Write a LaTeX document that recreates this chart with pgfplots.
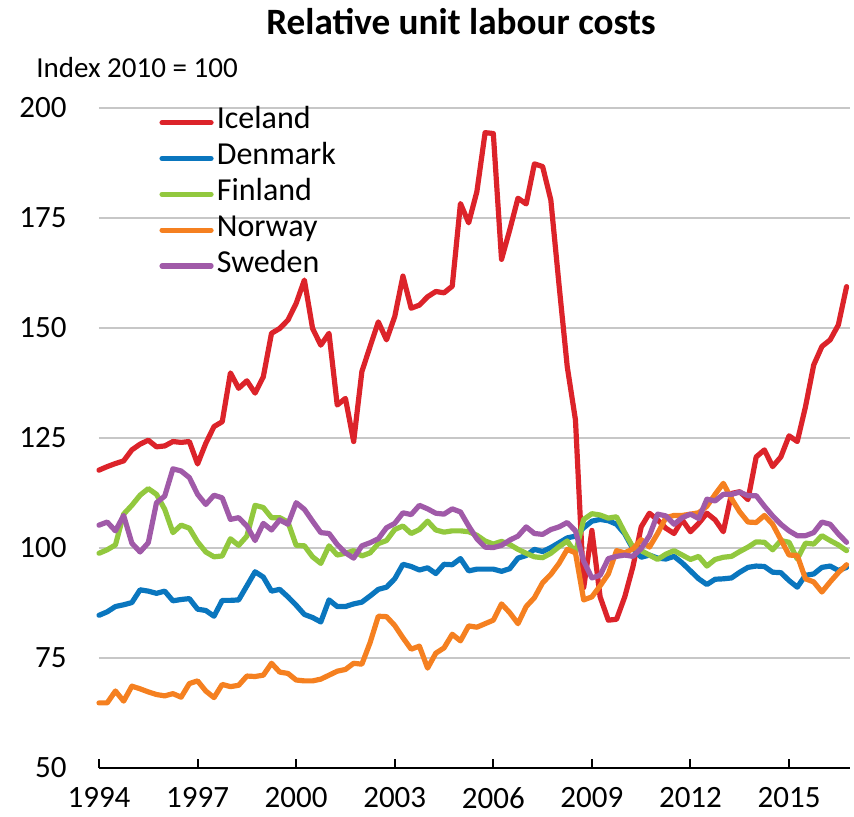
\documentclass[border=0pt]{standalone}
\usepackage{fontspec}
\setmainfont{Carlito}
\usepackage{pgfplots}
\usepackage{pgfplotstable}
\pgfplotsset{compat=1.18}
\definecolor{ice}{RGB}{220,35,42}
\definecolor{den}{RGB}{10,118,190}
\definecolor{fin}{RGB}{146,200,62}
\definecolor{nor}{RGB}{245,128,32}
\definecolor{swe}{RGB}{160,90,168}
\pgfplotstableread{
x ice den fin nor swe
1994.00 117.7 84.7 98.8 64.8 105.2
1994.25 118.5 85.5 99.6 64.8 105.9
1994.50 119.2 86.7 100.7 67.5 103.9
1994.75 119.8 87.1 107.7 65.2 107.4
1995.00 122.3 87.6 109.7 68.6 101.1
1995.25 123.6 90.5 112.0 68.0 99.1
1995.50 124.5 90.2 113.5 67.3 101.2
1995.75 123.0 89.7 112.2 66.7 110.3
1996.00 123.2 90.2 108.8 66.4 111.8
1996.25 124.2 88.0 103.5 66.9 118.0
1996.50 124.0 88.3 105.2 66.1 117.5
1996.75 124.2 88.5 104.5 69.2 116.0
1997.00 119.1 86.1 101.4 69.8 112.2
1997.25 123.8 85.8 99.1 67.5 109.9
1997.50 127.6 84.5 98.0 66.0 112.0
1997.75 128.7 88.1 98.2 69.0 111.4
1998.00 139.8 88.1 102.1 68.5 106.5
1998.25 136.3 88.2 100.6 68.8 106.9
1998.50 138.0 91.4 102.7 70.9 105.0
1998.75 135.2 94.6 109.7 70.8 101.7
1999.00 138.9 93.4 109.2 71.1 105.6
1999.25 148.8 90.2 106.9 73.8 104.1
1999.50 149.9 90.6 106.9 71.8 106.4
1999.75 151.8 88.9 105.9 71.5 105.4
2000.00 155.6 87.0 100.6 70.0 110.3
2000.25 160.9 84.9 100.5 69.8 108.8
2000.50 149.9 84.2 98.0 69.8 106.1
2000.75 146.1 83.2 96.5 70.2 103.5
2001.00 148.8 88.2 100.5 71.1 103.3
2001.25 132.5 86.7 98.4 72.0 100.8
2001.50 134.0 86.7 98.8 72.4 98.9
2001.75 124.2 87.3 99.4 73.8 97.7
2002.00 140.1 87.7 98.2 73.6 100.5
2002.25 145.8 89.1 98.9 78.5 101.2
2002.50 151.4 90.6 101.0 84.5 102.1
2002.75 147.3 91.1 101.7 84.4 104.6
2003.00 152.6 93.0 104.2 82.4 105.6
2003.25 161.8 96.3 105.0 79.6 108.0
2003.50 154.5 95.8 103.3 77.0 107.6
2003.75 155.2 95.0 104.2 77.7 109.7
2004.00 157.1 95.5 106.1 72.7 108.9
2004.25 158.3 94.2 104.1 76.1 107.9
2004.50 158.0 96.3 103.6 77.3 107.7
2004.75 159.5 96.2 103.9 80.4 108.9
2005.00 178.3 97.6 103.9 78.9 108.2
2005.25 173.9 94.8 103.7 82.3 105.0
2005.50 181.0 95.2 102.9 82.0 102.1
2005.75 194.4 95.2 101.6 82.8 100.2
2006.00 194.2 95.2 100.9 83.6 100.1
2006.25 165.6 94.7 101.5 87.3 100.6
2006.50 172.3 95.3 100.8 85.3 101.8
2006.75 179.5 97.7 99.7 82.8 102.7
2007.00 178.2 98.3 98.8 86.7 104.8
2007.25 187.3 99.7 98.0 88.7 103.3
2007.50 186.7 99.2 97.8 92.1 103.1
2007.75 179.1 100.1 98.8 94.0 104.2
2008.00 159.8 101.2 100.3 96.5 104.8
2008.25 141.2 102.3 101.6 99.7 105.8
2008.50 129.1 102.7 98.9 98.9 103.9
2008.75 91.0 104.6 106.5 88.2 97.0
2009.00 104.0 106.1 107.8 88.9 93.2
2009.25 88.9 106.5 107.5 91.4 93.8
2009.50 83.6 106.2 106.8 94.1 97.6
2009.75 83.8 105.4 107.1 99.4 98.1
2010.00 88.9 103.2 103.5 98.9 98.4
2010.25 95.8 99.8 100.2 99.8 98.1
2010.50 104.8 97.9 99.4 101.9 99.9
2010.75 107.9 98.4 98.4 100.2 102.8
2011.00 106.4 97.7 97.4 103.3 107.7
2011.25 104.5 97.5 98.6 106.9 107.3
2011.50 103.3 98.1 99.4 107.4 105.4
2011.75 106.4 96.6 98.4 107.4 106.9
2012.00 103.7 94.8 97.4 107.7 107.7
2012.25 105.6 93.0 98.1 108.0 106.7
2012.50 107.9 91.7 95.9 109.5 111.1
2012.75 106.4 92.9 97.4 112.2 110.7
2013.00 103.7 93.0 97.9 114.7 112.2
2013.25 112.4 93.2 98.1 111.2 112.2
2013.50 112.8 94.5 99.2 108.2 112.7
2013.75 111.0 95.6 100.2 105.9 111.9
2014.00 120.7 95.9 101.4 105.8 111.9
2014.25 122.3 95.8 101.3 107.4 109.5
2014.50 118.5 94.5 99.6 105.4 107.3
2014.75 120.7 94.4 101.7 101.9 105.4
2015.00 125.5 92.6 101.3 98.4 103.9
2015.25 124.2 91.1 97.5 98.3 102.8
2015.50 132.1 93.8 101.1 93.0 102.8
2015.75 141.6 94.1 100.9 92.3 103.5
2016.00 145.8 95.6 102.8 90.0 105.9
2016.25 147.3 95.9 101.7 92.3 105.4
2016.50 150.7 94.9 100.7 94.4 103.2
2016.75 159.4 95.6 99.4 96.2 101.3
}\datatable
\begin{document}
\begin{tikzpicture}
\path[use as bounding box] (-49.5pt,-24pt) rectangle (377.5pt,384pt);
\begin{axis}[
 scale only axis, width=375.5pt, height=330pt,
 xmin=1994, xmax=2016.855, ymin=50, ymax=200,
 axis x line*=bottom, axis y line*=left,
 y axis line style={draw=none},
 x axis line style={line width=1pt, black, -},
 xtick={1994,1997,...,2015},
 xticklabels={1994,1997,2000,2003,2006,2009,2012,2015},
 ytick={50,75,...,200},
 yticklabels={50,75,100,125,150,175,200},
 tick align=inside, major tick length=4.5pt,
 xtick style={line width=1pt, black},
 ytick style={draw=none},
 ymajorgrids, grid style={line width=1pt, color=black!22},
 xticklabel style={anchor=north, inner sep=0pt, yshift=-9.5pt},
 yticklabel style={anchor=east, inner sep=0pt, xshift=-16pt},
 ticklabel style={font=\fontsize{15.5}{18}\selectfont},
 clip=false,
 every axis plot/.append style={line width=2.6pt, line join=round, line cap=round},
 legend cell align=left,
 legend image code/.code={\draw[#1] (0pt,0pt) -- (24.5pt,0pt);},
 legend style={draw=none, fill=none, inner sep=0pt, outer sep=0pt,
   anchor=north west, at={(0.0805,1.0)}, yshift=1.6pt,
   font=\fontsize{16}{19}\selectfont, row sep=0pt,
   nodes={inner sep=0pt, text height=12pt, text depth=5.9pt},
   /tikz/every odd column/.append style={column sep=1.6pt}},
]
\addplot[ice] table[x=x,y=ice] {\datatable};
\addplot[den] table[x=x,y=den] {\datatable};
\addplot[fin] table[x=x,y=fin] {\datatable};
\addplot[nor] table[x=x,y=nor] {\datatable};
\addplot[swe] table[x=x,y=swe] {\datatable};
\legend{Iceland,Denmark,Finland,Norway,Sweden}
\end{axis}
\node[font=\bfseries\fontsize{18.6}{22}\selectfont] at (181pt,373pt) {Relative unit labour costs};
\node[anchor=west, inner sep=0pt, font=\fontsize{14.5}{18}\selectfont] at (-31.5pt,350pt) {Index 2010 = 100};
\end{tikzpicture}
\end{document}
